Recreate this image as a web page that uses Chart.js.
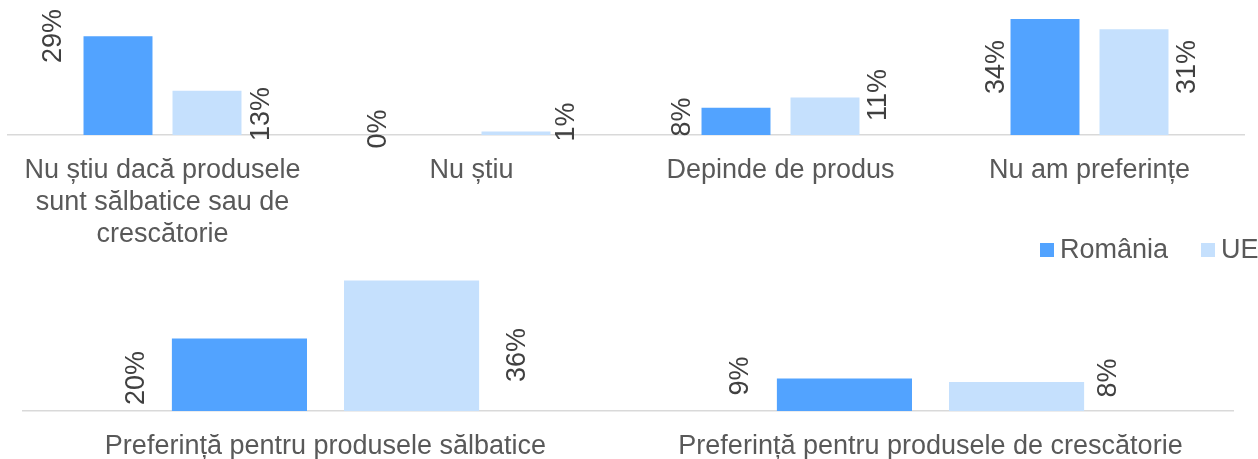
<!DOCTYPE html>
<html>
<head>
<meta charset="utf-8">
<script src="https://cdn.jsdelivr.net/npm/chart.js@4/dist/chart.umd.min.js"></script>
<style>
  body { margin: 0; background: #fff; width: 1258px; height: 459px; overflow: hidden; position: relative;
         font-family: "Liberation Sans", Arial, sans-serif; }
  #topBox { position: absolute; left: 0; top: 0; width: 1258px; height: 250px; }
  #botBox { position: absolute; left: 0; top: 266px; width: 1258px; height: 193px; }
  #legend { position: absolute; left: 1040px; top: 234px; display: flex; align-items: center;
            font-size: 27px; color: #595959; white-space: nowrap; }
  #legend span.box { display: inline-block; width: 14px; height: 14px; margin-right: 6px; }
  #legend span.item { display: inline-flex; align-items: center; margin-right: 33px; }
</style>
</head>
<body>
<div id="topBox"><canvas id="topChart"></canvas></div>
<div id="botBox"><canvas id="botChart"></canvas></div>
<div id="legend"></div>

<script>
// categories and values (%)
const topCategories = [
  ['Nu știu dacă produsele', 'sunt sălbatice sau de', 'crescătorie'],
  'Nu știu',
  'Depinde de produs',
  'Nu am preferințe'
];
const topRomania = [29, 0, 8, 34];
const topUE = [13, 1, 11, 31];

const botCategories = ['Preferință pentru produsele sălbatice', 'Preferință pentru produsele de crescătorie'];
const botRomania = [20, 9];
const botUE = [36, 8];

const seriesNames = ['România', 'UE'];
const seriesColors = ['#52a3ff', '#c5e0fd'];

const font = '"Liberation Sans", Arial, sans-serif';

// rotated value labels, placed beside the bars: [dx from bar edge, lift of label centre above axis]
const valueLabels = {
  id: 'valueLabels',
  afterDatasetsDraw(chart, args, opts) {
    const ctx = chart.ctx;
    const base = chart.chartArea.bottom;
    ctx.save();
    ctx.font = '27px ' + font;
    ctx.fillStyle = '#404040';
    ctx.textAlign = 'center';
    ctx.textBaseline = 'middle';
    chart.data.datasets.forEach((ds, i) => {
      chart.getDatasetMeta(i).data.forEach((bar, j) => {
        const p = opts.pos[i][j];
        const edge = i === 0 ? bar.x - bar.width / 2 : bar.x + bar.width / 2;
        ctx.save();
        ctx.translate(edge + p[0], base - p[1]);
        ctx.rotate(-Math.PI / 2);
        ctx.fillText(ds.data[j] + '%', 0, 0);
        ctx.restore();
      });
    });
    ctx.restore();
  }
};

function makeChart(id, cats, ro, ue, yMax, axisH, catPct, barPct, pad, pos) {
  return new Chart(document.getElementById(id), {
    type: 'bar',
    data: {
      labels: cats,
      datasets: [
        { label: seriesNames[0], data: ro, backgroundColor: seriesColors[0], categoryPercentage: catPct, barPercentage: barPct },
        { label: seriesNames[1], data: ue, backgroundColor: seriesColors[1], categoryPercentage: catPct, barPercentage: barPct }
      ]
    },
    options: {
      responsive: true,
      maintainAspectRatio: false,
      animation: false,
      layout: { padding: { left: pad[0], right: pad[1], top: 0, bottom: 0 } },
      plugins: {
        legend: { display: false },
        tooltip: { enabled: false },
        valueLabels: { pos: pos }
      },
      scales: {
        x: {
          grid: { display: false, drawTicks: false },
          border: { display: true, color: '#d9d9d9', width: 1.5 },
          ticks: { color: '#595959', font: { family: font, size: 27, lineHeight: 1.2 },
                   padding: 19, maxRotation: 0, autoSkip: false },
          afterFit: s => { s.height = axisH; }
        },
        y: { display: false, min: 0, max: yMax }
      }
    },
    plugins: [valueLabels]
  });
}

makeChart('topChart', topCategories, topRomania, topUE, 39.6, 115, 0.576, 0.775, [8, 14], [
  [[-30, 99], [-14, 6], [-19, 18], [-14, 68]],
  [[20, 21], [16, 13], [19, 40], [19, 68]]
]);

makeChart('botChart', botCategories, botRomania, botUE, 40, 48, 0.569, 0.785, [23, 25], [
  [[-35, 33], [-36, 35]],
  [[38, 56], [24, 33]]
]);

// legend
const legend = document.getElementById('legend');
seriesNames.forEach((n, i) => {
  const item = document.createElement('span');
  item.className = 'item';
  item.innerHTML = '<span class="box" style="background:' + seriesColors[i] + '"></span>' + n;
  legend.appendChild(item);
});
</script>
</body>
</html>
